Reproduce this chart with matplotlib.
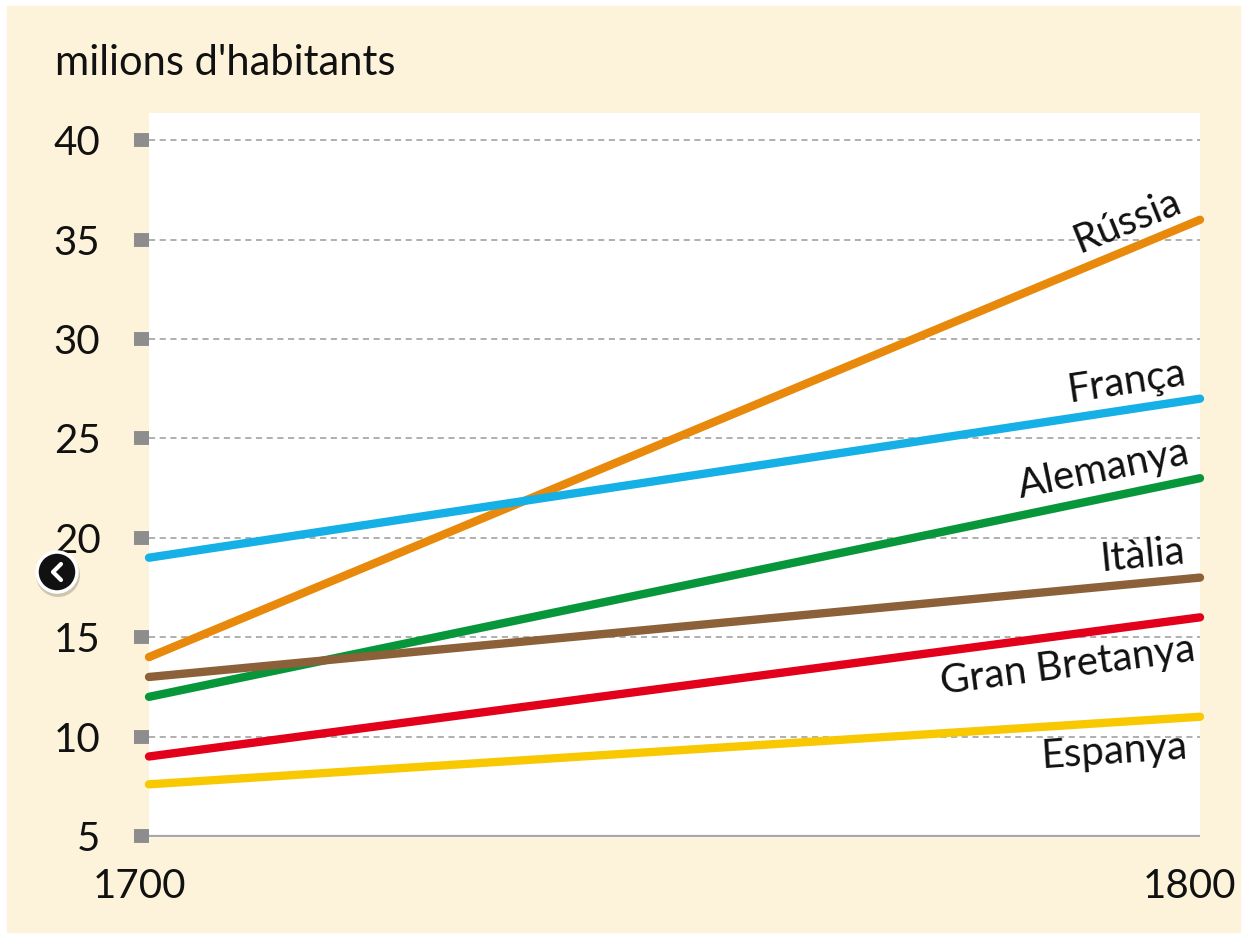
import matplotlib
matplotlib.use("Agg")
import matplotlib.pyplot as plt
from matplotlib.patches import Rectangle, Circle
from matplotlib.lines import Line2D
from matplotlib.transforms import IdentityTransform

plt.rcParams["font.family"] = ["Lato", "DejaVu Sans"]

# ---- data (milions d'habitants) ----
years = [1700, 1800]
countries = ["Rússia", "França", "Alemanya", "Itàlia", "Gran Bretanya", "Espanya"]
russia = [14, 36]
franca = [19, 27]
alemanya = [12, 23]
italia = [13, 18]
gran_bretanya = [9, 16]
espanya = [7.6, 11]
series = [russia, franca, alemanya, italia, gran_bretanya, espanya]
colors = ["#E8890C", "#15B0E6", "#08963A", "#8C6038", "#E2001A", "#F8C800"]
yticks = [5, 10, 15, 20, 25, 30, 35, 40]

# label placement: (x, y, rotation) in data units, right-anchored
label_pos = [(1798.0, 37.0, 22), (1798.6, 28.3, 8.5), (1799.0, 24.3, 11.5),
             (1798.6, 19.3, 5.4), (1799.5, 14.4, 7.5), (1798.8, 9.5, 3.8)]

CREAM = "#FDF3DA"

fig = plt.figure(figsize=(12.47, 9.39), dpi=100, facecolor="white")
fig.patches.append(Rectangle((7 / 1247, 7 / 939), 1233 / 1247, 926 / 939,
                             transform=fig.transFigure, color=CREAM, zorder=-10))

ax = fig.add_axes([149 / 1247, 1 - 838 / 939, 1051 / 1247, 725 / 939])
ax.set_facecolor("white")
ax.set_xlim(1700, 1800)
ax.set_ylim(4.9, 41.37)
for s in ax.spines.values():
    s.set_visible(False)

# grid
for yv in yticks:
    if yv == 5:
        ax.axhline(yv, color="#a8a8a8", lw=1.6, zorder=1)
    else:
        ax.axhline(yv, color="#9a9a9a", lw=1.1, ls=(0, (4, 3)), zorder=1)

# lines
for vals, c in zip(series, colors):
    ax.plot(years, vals, color=c, lw=6, solid_capstyle="round", zorder=3, clip_on=False)

# labels along the lines
for name, (lx, ly, rot) in zip(countries, label_pos):
    ax.text(lx, ly, name, ha="right", va="center", rotation=rot,
            rotation_mode="anchor", fontsize=29, color="#111111", zorder=4)

# y ticks: gray squares
ax.set_yticks(yticks)
ax.set_yticklabels([str(v) for v in yticks], fontsize=29, color="#111111")
ax.tick_params(axis="y", length=11, width=10, color="#8d8d8d", pad=24)

# x ticks
ax.set_xticks([])
ax.text(1699.1, 2.45, "1700", ha="center", va="center", fontsize=29, color="#111111")
ax.text(1799.0, 2.45, "1800", ha="center", va="center", fontsize=29, color="#111111")

fig.text(55 / 1247, 1 - 63 / 939, "milions d'habitants", ha="left", va="center",
         fontsize=30, color="#111111")

# carousel button on the left edge
bx, by = 57, 939 - 572
fig.patches.append(Circle((bx + 1, by - 3), 22, transform=IdentityTransform(),
                          facecolor="#00000030", edgecolor="none", zorder=4))
fig.patches.append(Circle((bx, by), 20, transform=IdentityTransform(), facecolor="#111111",
                          edgecolor="white", lw=2.5, zorder=5))
fig.add_artist(Line2D([bx + 4, bx - 4, bx + 4], [by + 8, by, by - 8],
                      transform=IdentityTransform(), color="white", lw=3,
                      solid_capstyle="round", solid_joinstyle="round", zorder=6))

fig.savefig("out.png", dpi=100, facecolor=fig.get_facecolor())
